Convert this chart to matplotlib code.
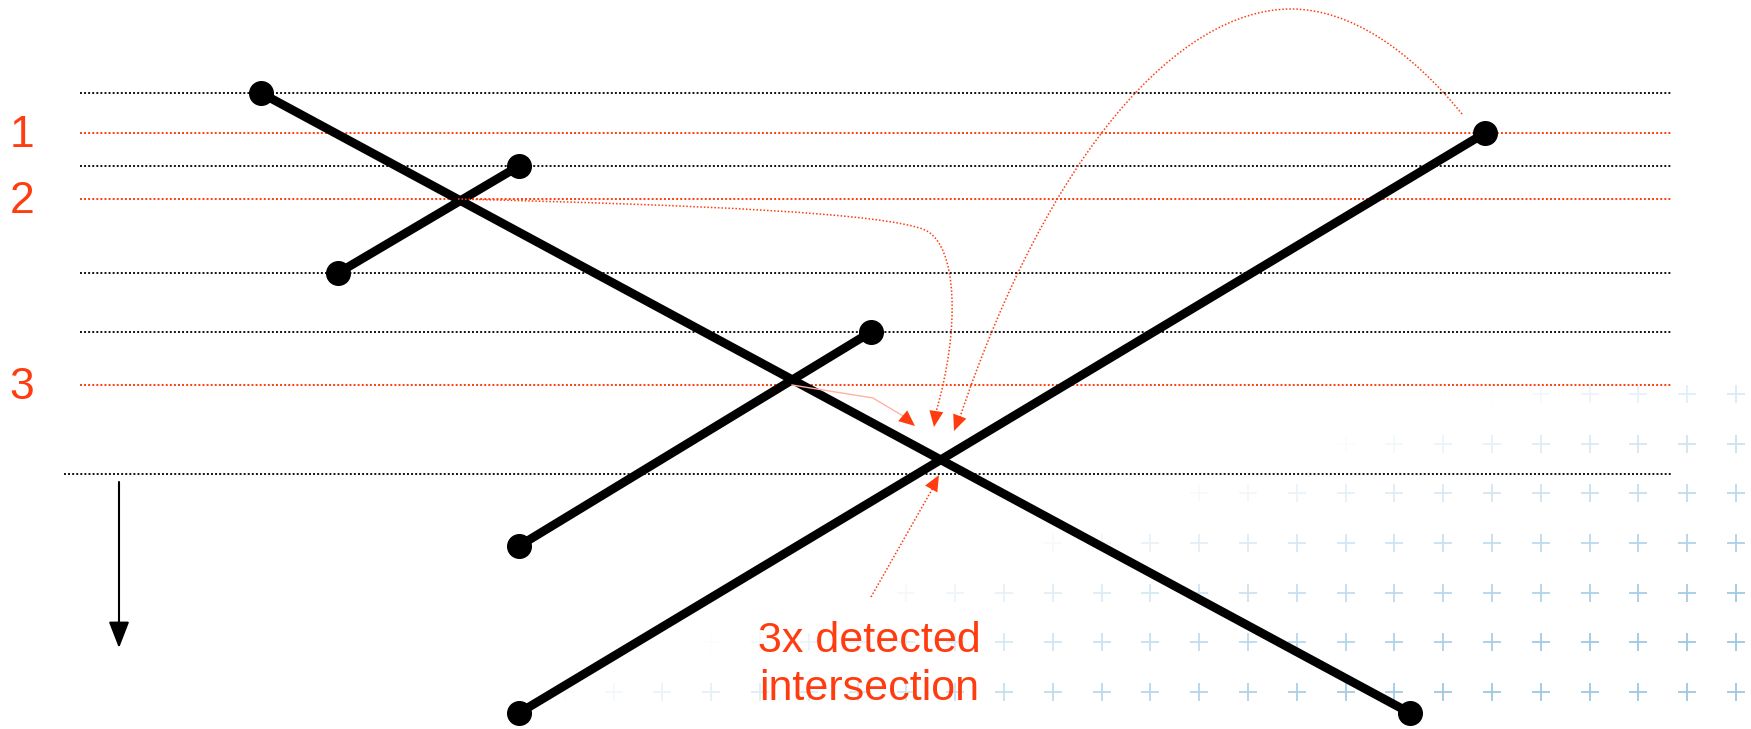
import numpy as np
import matplotlib
matplotlib.use("Agg")
import matplotlib.pyplot as plt
from matplotlib.path import Path
from matplotlib.patches import PathPatch, Polygon

# ---------------- data (pixel space of the slide) ----------------
level_y = [93, 133, 166, 199, 273, 332, 385, 474]
level_is_red = [False, True, False, True, False, False, True, False]
level_x_start = [80, 80, 80, 80, 80, 80, 80, 64]
level_x_end = 1671

label_text = ["1", "2", "3"]
label_y = [133, 199, 385]

seg_x0 = [261, 519, 338, 519]
seg_y0 = [93, 713, 273, 546]
seg_x1 = [1410, 1485, 519, 871]
seg_y1 = [713, 133, 166, 332]

note_lines = ["3x detected", "intersection"]
note_x = 869
note_baseline = [652, 700]

sweep_x = 119
sweep_y = [482, 648]

RED = "#ff3c0f"

W, H = 1751, 729
fig = plt.figure(figsize=(W / 100, H / 100), dpi=100)
ax = fig.add_axes([0, 0, 1, 1])
ax.set_xlim(0, W)
ax.set_ylim(H, 0)
ax.axis("off")

# ---------------- faint background cross pattern ----------------
cols = 1736 - 48.8 * np.arange(0, 26)
rows = 692 - 49.7 * np.arange(-1, 7)
cx, cy = np.meshgrid(cols, rows)
cx, cy = cx.ravel(), cy.ravel()
s = (cx - 600) + 3.15 * (cy - 692)
alpha = np.clip((s + 60) / 900.0, 0, 1) ** 0.8 * 0.75
for x, y, a in zip(cx, cy, alpha):
    if a > 0.02:
        ax.plot(x, y, marker="+", ms=12.5, mew=1.3, color="#7db6da", alpha=a, zorder=0)

# ---------------- horizontal scan levels ----------------
for y, red, xs in zip(level_y, level_is_red, level_x_start):
    ax.plot([xs, level_x_end], [y, y], color=RED if red else "#111111",
            lw=1.4, linestyle=(0, (1, 1.1)), zorder=1)

for t, y in zip(label_text, label_y):
    ax.text(22, y + 14, t, color=RED, fontsize=32, ha="center", va="baseline",
            family="Liberation Sans")

# ---------------- segments ----------------
for x0, y0, x1, y1 in zip(seg_x0, seg_y0, seg_x1, seg_y1):
    ax.plot([x0, x1], [y0, y1], color="black", lw=6.3, solid_capstyle="butt", zorder=3)
    ax.plot([x0, x1], [y0, y1], "o", color="black", ms=17, zorder=4)

# ---------------- sweep direction arrow ----------------
ax.annotate("", xy=(sweep_x, sweep_y[1]), xytext=(sweep_x, sweep_y[0]),
            arrowprops=dict(arrowstyle="-|>,head_length=0.9,head_width=0.35",
                            color="black", lw=1.5, shrinkA=0, shrinkB=0,
                            mutation_scale=18))


def head(tip, frm, length=16, width=14, zorder=5):
    tip = np.asarray(tip, float)
    d = tip - np.asarray(frm, float)
    d /= np.hypot(*d)
    n = np.array([-d[1], d[0]])
    base = tip - d * length
    pts = [tip, base + n * width / 2, base - n * width / 2]
    ax.add_patch(Polygon(pts, closed=True, color=RED, lw=0, zorder=zorder))


dotted = dict(facecolor="none", edgecolor=RED, lw=1.1, linestyle=(0, (1, 1.3)), zorder=5)

# arrow from intersection on level 3 (faint solid)
p1 = [(792, 385), (873, 398), (903, 416)]
ax.plot([p[0] for p in p1], [p[1] for p in p1], color="#ffb3a3", lw=1.0, zorder=5)
head((915, 426), (903, 416))

# arrow from intersection on level 2
v2 = [(458, 199), (700, 205), (885, 213), (925, 230),
      (958, 245), (960, 330), (936, 412)]
c2 = [Path.MOVETO, Path.CURVE4, Path.CURVE4, Path.CURVE4,
      Path.CURVE4, Path.CURVE4, Path.CURVE4]
ax.add_patch(PathPatch(Path(v2, c2), **dotted))
head((934, 427), (938, 400))

# arrow from endpoint on level 1
v3 = [(1462, 114), (1410, 50), (1350, 9), (1291, 9),
      (1180, 9), (1050, 150), (960, 417)]
c3 = [Path.MOVETO, Path.CURVE4, Path.CURVE4, Path.CURVE4,
      Path.CURVE4, Path.CURVE4, Path.CURVE4]
ax.add_patch(PathPatch(Path(v3, c3), **dotted))
head((954, 431), (966, 400))

# arrow from the note
ax.add_patch(PathPatch(Path([(871, 597), (934, 486)]), **dotted))
head((939, 475), (871, 597))

for t, yb in zip(note_lines, note_baseline):
    ax.text(note_x, yb, t, color=RED, fontsize=31, ha="center", va="baseline",
            family="Liberation Sans")

fig.savefig("out.png", dpi=100, facecolor="white")
